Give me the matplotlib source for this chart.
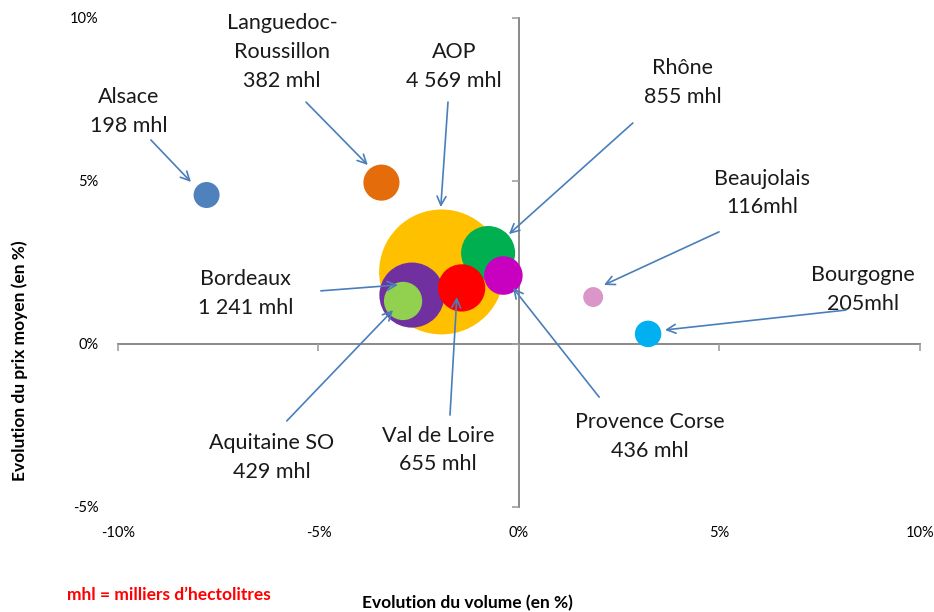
import matplotlib.pyplot as plt

plt.rcParams['font.family'] = ['Lato', 'DejaVu Sans']

# regions, evolution du volume (%), evolution du prix moyen (%), volume (mhl)
regions = ['AOP', 'Rhône', 'Bordeaux', 'Aquitaine SO', 'Val de Loire',
           'Provence Corse', 'Alsace', 'Languedoc-Roussillon', 'Beaujolais', 'Bourgogne']
volume_evol = [-1.93, -0.77, -2.67, -2.89, -1.43, -0.39, -7.79, -3.43, 1.85, 3.22]
price_evol = [2.21, 2.79, 1.50, 1.32, 1.72, 2.10, 4.57, 4.95, 1.44, 0.31]
volume_mhl = [4569, 855, 1241, 429, 655, 436, 198, 382, 116, 205]
labels = ['AOP\n4 569 mhl', 'Rhône\n855 mhl', 'Bordeaux\n1 241 mhl', 'Aquitaine SO\n429 mhl',
          'Val de Loire\n655 mhl', 'Provence Corse\n436 mhl', 'Alsace\n198 mhl',
          'Languedoc-\nRoussillon\n382 mhl', 'Beaujolais\n116mhl', 'Bourgogne\n205mhl']
colors = ['#FFC000', '#00B050', '#7030A0', '#92D050', '#FF0000',
          '#C800C0', '#4F81BD', '#E46C0A', '#DA96C8', '#00B0F0']

# layout of the callouts: text centre, arrow start, arrow tip
text_pos = [(-1.62, 8.50), (4.09, 8.01), (-6.81, 1.56), (-6.16, -3.47), (-2.02, -3.25),
            (3.27, -2.85), (-9.73, 7.12), (-5.91, 8.96), (6.06, 4.63), (8.58, 1.66)]
arrow_from = [(-1.77, 7.42), (2.84, 6.78), (-4.94, 1.63), (-5.79, -2.36), (-1.72, -2.18),
              (2.0, -1.63), (-9.18, 6.26), (-5.31, 7.42), (4.99, 3.44), (8.15, 1.04)]
arrow_to = [(-1.95, 4.20), (-0.25, 3.37), (-3.02, 1.81), (-3.14, 1.04), (-1.55, 1.44),
            (-0.15, 1.72), (-8.18, 4.97), (-3.77, 5.49), (2.12, 1.81), (3.64, 0.43)]

BUBBLE_SCALE = 1.77
arrow_color = '#4A7EBB'

fig = plt.figure(figsize=(9.34, 6.12), dpi=100)
ax = fig.add_axes([0.1263, 0.1716, 0.8587, 0.799])

for i in range(len(regions)):
    ax.scatter(volume_evol[i], price_evol[i], s=volume_mhl[i] * BUBBLE_SCALE,
               color=colors[i], edgecolors='none', zorder=2 + i)

for i in range(len(regions)):
    ax.text(text_pos[i][0], text_pos[i][1], labels[i], ha='center', va='center',
            fontsize=15.5, color='#1a1a1a', linespacing=1.55, zorder=20)
    ax.annotate('', xy=arrow_to[i], xytext=arrow_from[i],
                arrowprops=dict(arrowstyle='->', color=arrow_color, lw=1.2,
                                mutation_scale=16, shrinkA=0, shrinkB=0), zorder=20)

ax.set_xlim(-10, 10)
ax.set_ylim(-5, 10)
ax.set_xticks([-10, -5, 0, 5, 10])
ax.set_yticks([-5, 0, 5, 10])
ax.set_xticklabels(['-10%', '-5%', '0%', '5%', '10%'])
ax.set_yticklabels(['-5%', '0%', '5%', '10%'])

# axes crossing at zero: use top/right spines moved to 0
ax.spines['left'].set_visible(False)
ax.spines['bottom'].set_visible(False)
ax.spines['top'].set_position(('data', 0))
ax.spines['right'].set_position(('data', 0))
for side in ['top', 'right']:
    ax.spines[side].set_color('#808080')
    ax.spines[side].set_linewidth(1.3)
    ax.spines[side].set_zorder(1)
ax.tick_params(axis='x', top=True, bottom=False, labeltop=False, labelbottom=True,
               direction='in', length=5, width=1.2, color='#A0A0A0', pad=14, labelsize=10.5)
ax.tick_params(axis='y', right=True, left=False, labelright=False, labelleft=True,
               direction='in', length=5, width=1.2, color='#A0A0A0', pad=14, labelsize=10.5)

fig.text(0.021, 0.41, 'Evolution du prix moyen (en %)', rotation=90, ha='center', va='center',
         fontsize=12.5, fontweight='bold')
fig.text(0.501, 0.014, 'Evolution du volume (en %)', ha='center', va='center',
         fontsize=12.5, fontweight='bold')
fig.text(0.072, 0.027, 'mhl = milliers d\u2019hectolitres', ha='left', va='center',
         fontsize=12.5, fontweight='bold', color='#FF0000')

fig.savefig('out.png', dpi=100)
